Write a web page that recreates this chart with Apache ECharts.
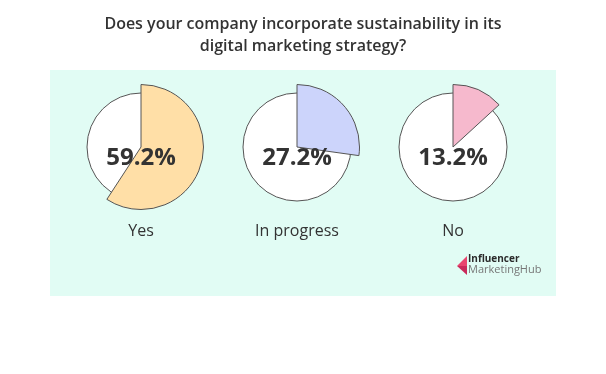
<!DOCTYPE html>
<html><head><meta charset="utf-8">
<script src="https://cdn.jsdelivr.net/npm/echarts@6/dist/echarts.min.js"></script>
<style>html,body{margin:0;padding:0;background:#fff}#c{width:606px;height:374px}</style>
</head><body><div id="c"></div>
<script>
const titleText = 'Does your company incorporate sustainability in its\ndigital marketing strategy?';
const categories = ['Yes', 'In progress', 'No'];
const values = [59.2, 27.2, 13.2];
const sliceColors = ['#ffdfa7', '#ccd4fb', '#f6b9cd'];
const centersX = [141, 297, 453];
const FONT = '"Open Sans", "Noto Sans", sans-serif';

const chart = echarts.init(document.getElementById('c'), null, {renderer: 'canvas'});
const series = [];
const graphic = [
  {type: 'rect', z: -10, shape: {x: 50, y: 70, width: 506, height: 226}, style: {fill: '#e1fcf4'}},
  {type: 'polygon', shape: {points: [[467,256],[467,266],[457,266]]}, style: {fill: '#e8456f'}},
  {type: 'polygon', shape: {points: [[457,266],[467,266],[467,275]]}, style: {fill: '#c92a5b'}},
  {type: 'text', left: 468, top: 254, style: {text: 'Influencer', font: 'bold 10px ' + FONT, fill: '#2b2b2b'}},
  {type: 'text', left: 468, top: 264, style: {text: 'MarketingHub', font: '11px ' + FONT, fill: '#777'}}
];
categories.forEach((cat, i) => {
  const cx = centersX[i];
  series.push({
    type: 'pie', silent: true, animation: false, center: [cx, 147], radius: 54,
    label: {show: false}, labelLine: {show: false},
    itemStyle: {color: '#fff', borderColor: '#555', borderWidth: 1},
    data: [{value: 100, name: cat + ' base'}], z: 1
  });
  series.push({
    type: 'pie', silent: true, animation: false, center: [cx, 147], radius: 62.5,
    startAngle: 90, clockwise: true,
    label: {show: false}, labelLine: {show: false},
    data: [
      {value: values[i], name: cat, itemStyle: {color: sliceColors[i], borderColor: '#555', borderWidth: 1}},
      {value: 100 - values[i], name: cat + ' rest', itemStyle: {color: 'transparent', borderWidth: 0}}
    ], z: 2
  });
  graphic.push({type: 'text', z: 100, x: cx, y: 158, style: {text: values[i].toFixed(1) + '%', font: 'bold 24px ' + FONT, fill: '#333', align: 'center', verticalAlign: 'middle'}});
  graphic.push({type: 'text', z: 100, x: cx, y: 231, style: {text: cat, font: '500 16px ' + FONT, fill: '#333', align: 'center', verticalAlign: 'middle'}});
});

chart.setOption({
  backgroundColor: '#fff',
  animation: false,
  title: {text: titleText, left: 'center', top: 8, textStyle: {fontFamily: FONT, fontSize: 16, fontWeight: 600, color: '#333', lineHeight: 22}},
  series: series,
  graphic: graphic
});
</script></body></html>
